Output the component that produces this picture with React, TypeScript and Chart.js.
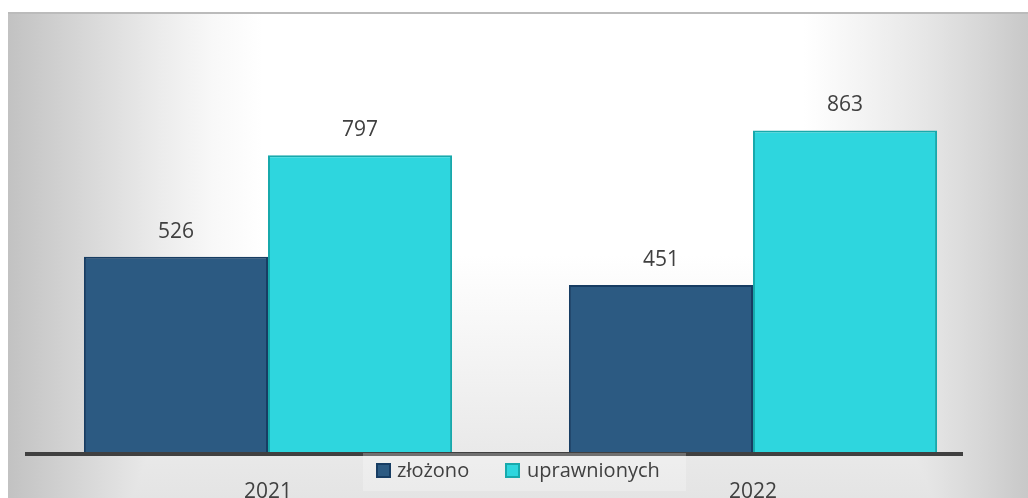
import React, { useEffect, useRef } from "react";
import { Chart, registerables } from "chart.js";

Chart.register(...registerables);

const categories = ["2021", "2022"];
const seriesNames = ["złożono", "uprawnionych"];
const zlozono = [526, 451];
const uprawnionych = [797, 863];
const fillColors = ["#2c5a82", "#2ed6de"];
const borderColors = ["#173d63", "#17a9ac"];

const FONT = "'Open Sans', 'DejaVu Sans', sans-serif";
const TEXT = "#404040";

const backgroundPlugin = {
  id: "cardBg",
  beforeDraw(chart: any) {
    const { ctx, width, height } = chart;
    ctx.save();
    ctx.fillStyle = "#ffffff";
    ctx.fillRect(0, 0, width, height);
    const x0 = 8;
    const y0 = 12;
    const w = width - x0;
    const h = height - y0;
    const hg = ctx.createLinearGradient(x0, 0, width, 0);
    hg.addColorStop(0, "#c2c2c2");
    hg.addColorStop(0.05, "#d0d0d0");
    hg.addColorStop(0.1, "#dedede");
    hg.addColorStop(0.15, "#ececec");
    hg.addColorStop(0.2, "#f8f8f8");
    hg.addColorStop(0.25, "#ffffff");
    hg.addColorStop(0.78, "#ffffff");
    hg.addColorStop(0.84, "#f3f3f3");
    hg.addColorStop(0.9, "#e6e6e6");
    hg.addColorStop(0.95, "#d8d8d8");
    hg.addColorStop(1, "#c8c8c8");
    ctx.fillStyle = hg;
    ctx.fillRect(x0, y0, w, h);
    ctx.globalCompositeOperation = "darken";
    const vg = ctx.createLinearGradient(0, y0, 0, height);
    vg.addColorStop(0, "#ffffff");
    vg.addColorStop(0.5, "#ffffff");
    vg.addColorStop(1, "#e4e4e4");
    ctx.fillStyle = vg;
    ctx.fillRect(x0, y0, w, h);
    ctx.globalCompositeOperation = "source-over";
    ctx.fillStyle = "#bbbbbb";
    ctx.fillRect(x0, y0, w, 2);
    ctx.restore();
  },
};

const overlayPlugin = {
  id: "overlay",
  afterDatasetsDraw(chart: any) {
    const { ctx, chartArea } = chart;
    const xScale = chart.scales.x;
    ctx.save();
    // axis line
    ctx.fillStyle = "#404040";
    ctx.fillRect(chartArea.left - 0.5, chartArea.bottom - 2, 938, 4);

    // data labels
    ctx.fillStyle = TEXT;
    ctx.font = `21px ${FONT}`;
    ctx.textAlign = "center";
    ctx.textBaseline = "alphabetic";
    chart.data.datasets.forEach((ds: any, di: number) => {
      const meta = chart.getDatasetMeta(di);
      meta.data.forEach((bar: any, i: number) => {
        ctx.fillText(String(ds.data[i]), bar.x, bar.y - 19);
      });
    });

    // category labels
    categories.forEach((c, i) => {
      ctx.fillText(c, xScale.getPixelForValue(i), 498);
    });

    // legend
    ctx.fillStyle = "rgba(255,255,255,0.25)";
    ctx.fillRect(363, 453, 323, 38);
    ctx.font = `20px ${FONT}`;
    ctx.textAlign = "left";
    const items = [
      { x: 376, tx: 397 },
      { x: 505, tx: 527 },
    ];
    items.forEach((it, i) => {
      ctx.fillStyle = fillColors[i];
      ctx.fillRect(it.x, 463, 15, 15);
      ctx.strokeStyle = borderColors[i];
      ctx.lineWidth = 2;
      ctx.strokeRect(it.x + 1, 464, 13, 13);
      ctx.fillStyle = TEXT;
      ctx.fillText(seriesNames[i], it.tx, 477);
    });
    ctx.restore();
  },
};

export default function App() {
  const ref = useRef<HTMLCanvasElement | null>(null);
  useEffect(() => {
    if (!ref.current) return;
    const chart = new Chart(ref.current, {
      type: "bar",
      data: {
        labels: categories,
        datasets: [
          {
            label: seriesNames[0],
            data: zlozono,
            backgroundColor: fillColors[0],
            borderColor: borderColors[0],
            borderWidth: 2,
          },
          {
            label: seriesNames[1],
            data: uprawnionych,
            backgroundColor: fillColors[1],
            borderColor: borderColors[1],
            borderWidth: 2,
          },
        ],
      },
      options: {
        responsive: false,
        animation: false,
        devicePixelRatio: 1,
        layout: { padding: { left: 25.5, right: 32.5, top: 79, bottom: 44 } },
        datasets: {
          bar: { categoryPercentage: 0.759, barPercentage: 1 },
        },
        scales: {
          x: { display: false, offset: true },
          y: { display: false, min: 0, max: 1000 },
        },
        plugins: {
          legend: { display: false },
          tooltip: { enabled: false },
        },
      },
      plugins: [backgroundPlugin, overlayPlugin],
    });
    return () => chart.destroy();
  }, []);
  return (
    <div style={{ position: "fixed", left: 0, top: 0, width: 1028, height: 498 }}>
      <canvas ref={ref} width={1028} height={498} style={{ display: "block" }} />
    </div>
  );
}
